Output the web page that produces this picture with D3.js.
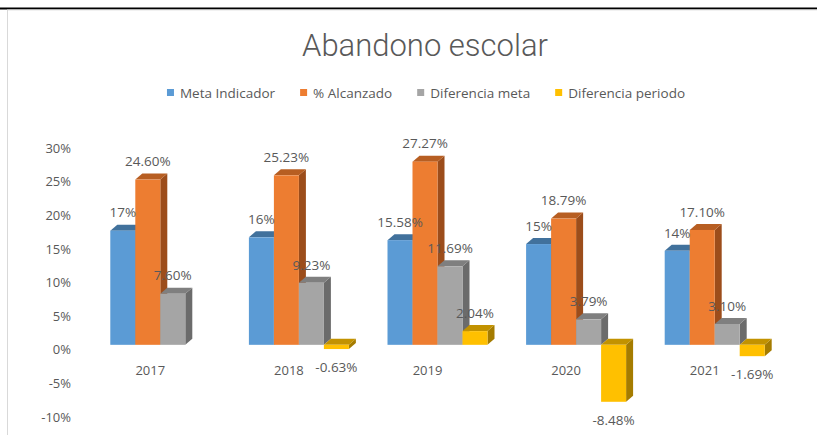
<!DOCTYPE html>
<html>
<head>
<meta charset="utf-8">
<script src="https://cdn.jsdelivr.net/npm/d3@7"></script>
<style>
  html, body { margin: 0; padding: 0; background: #fff; }
  svg { display: block; }
  text { font-family: "Open Sans", Roboto, sans-serif; fill: #595959; }
</style>
</head>
<body>
<svg id="chart" width="817" height="435"></svg>
<script>
// ── Data ────────────────────────────────────────────────────────────────
const years   = ['2017', '2018', '2019', '2020', '2021'];
const series  = ['Meta Indicador', '% Alcanzado', 'Diferencia meta', 'Diferencia periodo'];
const meta       = [17, 16, 15.58, 15, 14];
const alcanzado  = [24.60, 25.23, 27.27, 18.79, 17.10];
const difMeta    = [7.60, 9.23, 11.69, 3.79, 3.10];
const difPeriodo = [null, -0.63, 2.04, -8.48, -1.69];
const yTicks     = [-10, -5, 0, 5, 10, 15, 20, 25, 30];

const colors = {
  'Meta Indicador':     { front: '#5B9BD5', top: '#41719C', side: '#3A6690' },
  '% Alcanzado':        { front: '#ED7D31', top: '#B75E22', side: '#9C4D1B' },
  'Diferencia meta':    { front: '#A5A5A5', top: '#7F7F7F', side: '#6B6B6B' },
  'Diferencia periodo': { front: '#FFC000', top: '#C29200', side: '#A57C00' },
};

const values = [meta, alcanzado, difMeta, difPeriodo];
const rows = [];
years.forEach((yr, i) => {
  series.forEach((s, j) => {
    if (values[j][i] != null) rows.push({ year: yr, series: s, value: values[j][i] });
  });
});

const fmt = (d) => (d.series === 'Meta Indicador' && Number.isInteger(d.value))
  ? d.value + '%' : d.value.toFixed(2) + '%';

// ── Layout ──────────────────────────────────────────────────────────────
const svg = d3.select('#chart');
const DX = 7, DY = -6;        // 3D depth offset
const FLOOR = -5;             // bars' front plane sits a little above the axis zero

const x0 = d3.scaleBand().domain(years).range([91, 784]);
const x1 = d3.scaleBand().domain(series).range([0, 100]);
const groupPad = (x0.bandwidth() - 100) / 2;
const y = d3.scaleLinear().domain([-10, 30]).range([417, 148.3]);

// frame
svg.append('line').attr('x1', 0).attr('x2', 817).attr('y1', 8.5).attr('y2', 8.5)
  .attr('stroke', '#000').attr('stroke-width', 2);
svg.append('line').attr('x1', 7).attr('x2', 817).attr('y1', 10).attr('y2', 10)
  .attr('stroke', '#e3e3e3').attr('stroke-width', 1);
svg.append('line').attr('x1', 7.5).attr('x2', 7.5).attr('y1', 10).attr('y2', 435)
  .attr('stroke', '#d9d9d9').attr('stroke-width', 1);

// title
svg.append('text')
  .attr('x', 425).attr('y', 56)
  .attr('text-anchor', 'middle')
  .style('font-family', 'Roboto, "Open Sans", sans-serif')
  .style('font-weight', 300)
  .style('font-size', '31px')
  .text('Abandono escolar');

// legend
const legend = svg.append('g');
let lx = 0;
series.forEach(s => {
  const g = legend.append('g').attr('transform', `translate(${lx},0)`);
  g.append('rect').attr('x', 0).attr('y', -4).attr('width', 7).attr('height', 7)
    .attr('fill', colors[s].front);
  const t = g.append('text').attr('x', 13).attr('y', 0).attr('dy', '0.35em')
    .style('font-size', '13.5px').text(s);
  lx += 13 + t.node().getComputedTextLength() + 25;
});
lx -= 25;
legend.attr('transform', `translate(${426 - lx / 2},93)`);

// y axis labels
svg.append('g').selectAll('text').data(yTicks).join('text')
  .attr('x', 71).attr('y', d => y(d)).attr('dy', '0.35em')
  .attr('text-anchor', 'end')
  .style('font-size', '13px')
  .text(d => d + '%');

// bars
const barX = d => x0(d.year) + groupPad + x1(d.series);
const bw = x1.bandwidth();
const bars = svg.append('g');
rows.forEach(d => {
  const c = colors[d.series];
  const xa = barX(d);
  const yTop = y(Math.max(0, d.value)) + FLOOR;
  const yBot = y(Math.min(0, d.value)) + FLOOR;
  const g = bars.append('g');
  g.append('polygon')
    .attr('points', [[xa + bw, yTop], [xa + bw + DX, yTop + DY], [xa + bw + DX, yBot + DY], [xa + bw, yBot]].join(' '))
    .attr('fill', c.side);
  g.append('polygon')
    .attr('points', [[xa, yTop], [xa + DX, yTop + DY], [xa + bw + DX, yTop + DY], [xa + bw, yTop]].join(' '))
    .attr('fill', c.top);
  g.append('rect')
    .attr('x', xa).attr('y', yTop).attr('width', bw).attr('height', yBot - yTop)
    .attr('fill', c.front);
});

// category labels
svg.append('g').selectAll('text').data(years).join('text')
  .attr('x', d => x0(d) + x0.bandwidth() / 2 - 10)
  .attr('y', 370).attr('dy', '0.35em')
  .attr('text-anchor', 'middle')
  .style('font-size', '13px')
  .text(d => d);

// data labels
svg.append('g').selectAll('text').data(rows).join('text')
  .attr('x', d => barX(d) + bw / 2)
  .attr('y', d => d.value >= 0 ? y(d.value) + FLOOR - 18 : y(d.value) + FLOOR + 18)
  .attr('dy', '0.35em')
  .attr('text-anchor', 'middle')
  .style('font-size', '13.5px')
  .text(fmt);
</script>
</body>
</html>
